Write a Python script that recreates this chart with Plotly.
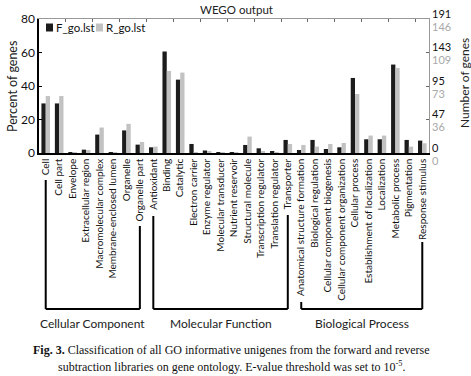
import plotly.graph_objects as go

categories = [
    "Cell", "Cell part", "Envelope", "Extracellular region", "Macromolecular complex",
    "Membrane-enclosed lumen", "Organelle", "Organelle part",
    "Antioxidant", "Binding", "Catalytic", "Electron carrier", "Enzyme regulator",
    "Molecular transducer", "Nutrient reservoir", "Structural molecule",
    "Transcription regulator", "Translation regulator", "Transporter",
    "Anatomical structure formation", "Biological regulation",
    "Cellular component biogenesis", "Cellular component organization",
    "Cellular process", "Establishment of localization", "Localization",
    "Metabolic process", "Pigmentation", "Response stimulus",
]
f_pct = [29.6, 29.6, 0.3, 2.0, 11.0, 0.3, 13.5, 5.0,
         3.4, 60.6, 43.8, 5.4, 1.5, 0.2, 0.6, 4.8, 2.8, 1.0, 7.8,
         1.8, 7.8, 2.4, 3.4, 44.8, 8.2, 8.2, 52.8, 7.8, 7.4]
r_pct = [34.0, 34.0, 0.5, 1.8, 15.2, 0.5, 17.4, 6.6,
         3.8, 49.0, 48.0, 0.5, 1.0, 0.5, 0.2, 9.8, 1.0, 0.3, 5.4,
         4.8, 3.8, 5.4, 6.0, 35.2, 10.4, 10.4, 50.8, 3.8, 5.8]
pct_ticks = [0, 20, 40, 60, 80]
f_count_ticks = ["0", "47", "95", "143", "191"]
r_count_ticks = ["0", "36", "73", "109", "146"]
series_names = ["F_go.lst", "R_go.lst"]
groups = [
    ("Cellular Component", "Cell", "Organelle part"),
    ("Molecular Function", "Antioxidant", "Transporter"),
    ("Biological Process", "Anatomical structure formation", "Response stimulus"),
]

W, H = 471, 376
ML, MR, MT, MB = 39, 42, 19, 223
PH = H - MT - MB
PW = W - ML - MR


def py(p):  # pixel y -> paper y
    return (H - MB - p) / PH


def px(p):  # pixel x -> paper x
    return (p - ML) / PW


F_COL = "#1c1c1c"
R_COL = "#c2c2c2"
FONT = "Lato"

fig = go.Figure()
fig.add_trace(go.Bar(x=categories, y=f_pct, name=series_names[0], marker_color=F_COL,
                     marker_line_width=0))
fig.add_trace(go.Bar(x=categories, y=r_pct, name=series_names[1], marker_color=R_COL,
                     marker_line_width=0))
fig.add_trace(go.Scatter(x=categories, y=f_pct, xaxis="x2", yaxis="y2", mode="markers",
                         marker=dict(opacity=0), showlegend=False, hoverinfo="skip"))

shapes = []
line_tops = {
    "Cell": 180, "Organelle part": 226, "Antioxidant": 216, "Transporter": 215,
    "Anatomical structure formation": 302, "Response stimulus": 242,
}
bracket_y = 309
annotations = []
for name, c0, c1 in groups:
    for c in (c0, c1):
        shapes.append(dict(type="line", xref="x", yref="paper", x0=c, x1=c,
                           y0=py(line_tops[c]), y1=py(bracket_y),
                           line=dict(color="black", width=2)))
    shapes.append(dict(type="line", xref="x", yref="paper", x0=c0, x1=c1,
                       y0=py(bracket_y), y1=py(bracket_y),
                       line=dict(color="black", width=2)))
    i0, i1 = categories.index(c0), categories.index(c1)
    annotations.append(dict(xref="x", yref="paper", x=(i0 + i1) / 2, y=py(323),
                            text=name, showarrow=False, xanchor="center", yanchor="middle",
                            font=dict(family=FONT, size=12, color="#222")))

# right axis double labels
for v, fl, rl in zip(pct_ticks, f_count_ticks, r_count_ticks):
    annotations.append(dict(xref="paper", yref="y", x=1, y=v, xshift=1, yshift=6,
                            text=fl, showarrow=False, xanchor="left", yanchor="middle",
                            font=dict(family=FONT, size=11, color="#111")))
    annotations.append(dict(xref="paper", yref="y", x=1, y=v, xshift=1, yshift=-7,
                            text=rl, showarrow=False, xanchor="left", yanchor="middle",
                            font=dict(family=FONT, size=11, color="#a8a8a8")))

# custom legend (inside top-left): square swatches + labels
legend_items = [(series_names[0], F_COL, 46, 54), (series_names[1], R_COL, 96, 104)]
for label, col, sx, tx in legend_items:
    shapes.append(dict(type="rect", xref="paper", yref="paper",
                       x0=px(sx), x1=px(sx + 7), y0=py(31.5), y1=py(23.5),
                       fillcolor=col, line=dict(width=0)))
    annotations.append(dict(xref="paper", yref="paper", x=px(tx), y=py(27.5),
                            text=label, showarrow=False, xanchor="left", yanchor="middle",
                            font=dict(family=FONT, size=11.5, color="#111")))

annotations += [
    dict(xref="paper", yref="paper", x=px(236), y=py(10), text="WEGO output",
         showarrow=False, xanchor="center", yanchor="middle",
         font=dict(family=FONT, size=11.5, color="#222")),
    dict(xref="paper", yref="paper", x=px(12), y=py(87), text="Percent of genes",
         showarrow=False, textangle=-90, xanchor="center", yanchor="middle",
         font=dict(family=FONT, size=12.5, color="#222")),
    dict(xref="paper", yref="paper", x=px(464), y=py(83), text="Number of genes",
         showarrow=False, textangle=-90, xanchor="center", yanchor="middle",
         font=dict(family=FONT, size=12, color="#222")),
    dict(xref="paper", yref="paper", x=px(231), y=py(350),
         text="<b>Fig. 3.</b> Classification of all GO informative unigenes from the forward and reverse",
         showarrow=False, xanchor="center", yanchor="middle",
         font=dict(family="Liberation Serif", size=12, color="#111")),
    dict(xref="paper", yref="paper", x=px(231), y=py(366),
         text="subtraction libraries on gene ontology. E-value threshold was set to 10<sup>-5</sup>.",
         showarrow=False, xanchor="center", yanchor="middle",
         font=dict(family="Liberation Serif", size=12, color="#111")),
]

fig.update_layout(
    width=W, height=H,
    margin=dict(l=ML, r=MR, t=MT, b=MB, pad=0),
    paper_bgcolor="white", plot_bgcolor="white",
    barmode="group", bargap=0.36, bargroupgap=0,
    font=dict(family=FONT, size=10, color="#111"),
    showlegend=False,
    xaxis=dict(type="category", categoryarray=categories, categoryorder="array",
               range=[-0.5, len(categories) - 0.5], tickangle=-90,
               showline=True, linecolor="black", linewidth=1.5, ticks="",
               tickfont=dict(family=FONT, size=10, color="#111"), showgrid=False,
               automargin=False),
    yaxis=dict(range=[0, 80], tickvals=pct_ticks, showline=True, linecolor="black",
               linewidth=1.5, ticks="inside", ticklen=3, tickcolor="black",
               showgrid=False, zeroline=False,
               tickfont=dict(family=FONT, size=12, color="#111"), automargin=False),
    xaxis2=dict(type="category", categoryarray=categories, categoryorder="array",
                range=[-0.5, len(categories) - 0.5], overlaying="x", side="top",
                showline=True, linecolor="#999", linewidth=1, ticks="inside",
                tickson="boundaries", ticklen=3, tickcolor="#666",
                showticklabels=False, showgrid=False),
    yaxis2=dict(range=[0, 80], overlaying="y", side="right", tickvals=pct_ticks,
                showline=True, linecolor="#999", linewidth=1, ticks="inside",
                ticklen=3, tickcolor="#666", showticklabels=False, showgrid=False,
                zeroline=False),
    shapes=shapes, annotations=annotations,
)

fig.write_html("out.html", config={"displayModeBar": False},
               post_script="document.body.style.margin='0';document.body.style.overflow='hidden';")
